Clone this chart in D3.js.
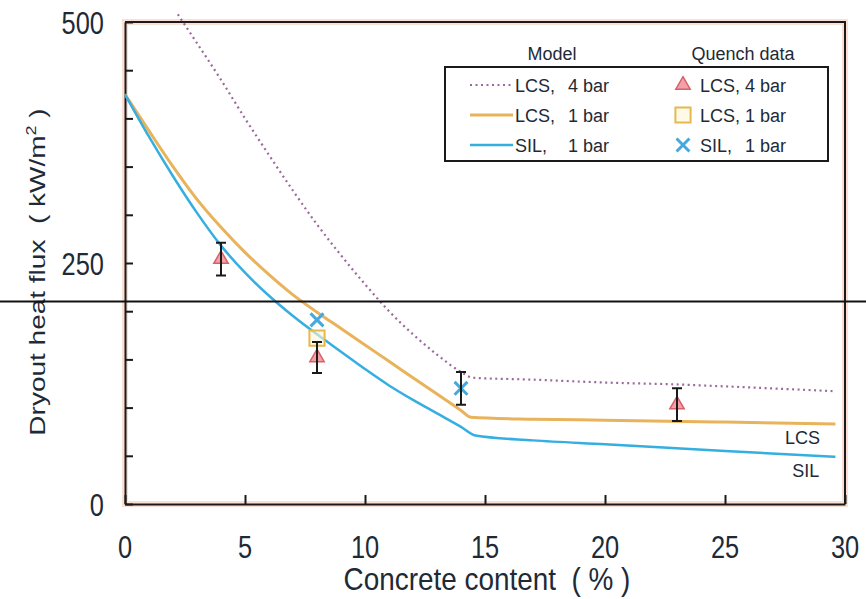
<!DOCTYPE html>
<html>
<head>
<meta charset="utf-8">
<script src="https://cdn.jsdelivr.net/npm/d3@7"></script>
<style>
  body { margin: 0; background: #fff; }
  svg { display: block; }
  text { font-family: Arial, "Liberation Sans", sans-serif; fill: #1e2a36; white-space: pre; }
</style>
</head>
<body>
<svg id="chart" width="866" height="599"></svg>
<script>
// Axis ticks
const xTickValues = [0, 5, 10, 15, 20, 25, 30];
const yTickValues = [0, 50, 100, 150, 200, 250, 300, 350, 400, 450, 500];
const yTickLabels = [0, 250, 500];

// Model curves: dryout heat flux (kW/m2) vs concrete content (%)
const lcs4X = [2.2, 3, 4, 5, 6, 7, 8, 9, 10, 11, 12, 13, 14, 14.5, 17, 20, 23, 25, 29.6];
const lcs4Y = [508, 478, 440, 400, 362, 325, 290, 258, 228, 200, 176, 155, 137, 131, 129, 126, 124, 122, 117];

const lcs1X = [0, 1, 2, 3, 4, 5, 6, 7, 8, 9, 10, 11, 12, 13, 14, 14.4, 17, 20, 25, 29.6];
const lcs1Y = [425, 387, 350, 316, 287, 261, 238, 217, 199, 182, 165, 148, 131, 114, 97, 90, 88, 87, 85, 83];

const silX = [0, 1, 2, 3, 4, 5, 6, 7, 8, 9, 10, 11, 12, 13, 14, 14.6, 17, 20, 25, 29.6];
const silY = [425, 381, 340, 302, 268, 240, 216, 195, 176, 158, 140, 123, 108, 94, 80, 71, 66, 62, 55, 49];

// Quench experiments (value and error half-width)
const quenchLcs4X = [4, 8, 23];
const quenchLcs4Y = [254, 152, 103];
const quenchLcs4Err = [17, 16, 17];

const quenchLcs1X = [8];
const quenchLcs1Y = [172];

const quenchSilX = [8, 14];
const quenchSilY = [191, 120];
const quenchSilErr = [0, 17];

// Horizontal reference level across the figure
const refLevel = 210;

const svg = d3.select("#chart");
const W = 866;

const x = d3.scaleLinear().domain([0, 30]).range([125, 845]);
const y = d3.scaleLinear().domain([0, 500]).range([504, 22]);

const ink = "#1a1a1a";
const cLcs4 = "#9a6a9a";
const cLcs1 = "#e8b35a";
const cSil = "#35aee0";

// Soft halo under the frame
svg.append("rect")
  .attr("x", x(0)).attr("y", y(500))
  .attr("width", x(30) - x(0)).attr("height", y(0) - y(500))
  .attr("fill", "none").attr("stroke", "#f9d2c2").attr("stroke-width", 6).attr("opacity", 0.7);

// Axes with inward ticks
const gx = svg.append("g").attr("transform", `translate(0,${y(0)})`)
  .call(d3.axisBottom(x).tickValues(xTickValues).tickSizeInner(-9).tickSizeOuter(0).tickFormat(""));
const gy = svg.append("g").attr("transform", `translate(${x(0)},0)`)
  .call(d3.axisLeft(y).tickValues(yTickValues).tickSizeInner(-8).tickSizeOuter(0).tickFormat(""));
[gx, gy].forEach(g => {
  g.selectAll("path, line").attr("stroke", ink).attr("stroke-width", 2);
});

// Top and right border
svg.append("path")
  .attr("d", `M${x(0)},${y(500)}H${x(30)}V${y(0)}`)
  .attr("fill", "none").attr("stroke", ink).attr("stroke-width", 2);

// Condensed text helper
function label(parent, px, py, str, size, sx, anchor, rotate) {
  let t = `translate(${px},${py})`;
  if (rotate) t += ` rotate(${rotate}) scale(1,${sx})`;
  else t += ` scale(${sx},1)`;
  return parent.append("g").attr("transform", t)
    .append("text").attr("text-anchor", anchor).style("font-size", size + "px").text(str);
}

// Tick labels
xTickValues.forEach(v => label(svg, x(v), 558, String(v), 31, 0.82, "middle"));
yTickLabels.forEach(v => label(svg, 104, y(v) + 11.5, String(v), 31, 0.82, "end"));

// Axis titles
label(svg, 487, 590, "Concrete content  ( % )", 31, 0.9, "middle");
const yt = label(svg, 45, 272, "Dryout heat flux  ( kW/m", 28, 0.8, "middle", -90);
yt.append("tspan").attr("dy", -11).style("font-size", "18px").text("2");
yt.append("tspan").attr("dy", 11).text(" )");

// Model lines
const line = d3.line().x(d => x(d[0])).y(d => y(d[1])).curve(d3.curveMonotoneX);
const zip = (a, b) => a.map((v, i) => [v, b[i]]);

svg.append("path").datum(zip(lcs1X, lcs1Y)).attr("d", line)
  .attr("fill", "none").attr("stroke", cLcs1).attr("stroke-width", 3);
svg.append("path").datum(zip(silX, silY)).attr("d", line)
  .attr("fill", "none").attr("stroke", cSil).attr("stroke-width", 2.5);
svg.append("path").datum(zip(lcs4X, lcs4Y)).attr("d", line)
  .attr("fill", "none").attr("stroke", cLcs4).attr("stroke-width", 2.2)
  .attr("stroke-dasharray", "2,3.5");

// Curve end labels
label(svg, x(27.5), y(lcs1Y[lcs1Y.length - 1]) + 20, "LCS", 18, 1, "start");
label(svg, x(27.8), y(silY[silY.length - 1]) + 20, "SIL", 18, 1, "start");

// Markers
const tri = d3.symbol().type(d3.symbolTriangle).size(90);
const sq = d3.symbol().type(d3.symbolSquare).size(230);
const cross = d3.symbol().type(d3.symbolTimes).size(110);

function drawTri(g, px, py) {
  g.append("path").attr("d", tri).attr("transform", `translate(${px},${py})`)
    .attr("fill", "#f0a2a6").attr("stroke", "#d8606a").attr("stroke-width", 1.5);
}
function drawSq(g, px, py) {
  g.append("path").attr("d", sq).attr("transform", `translate(${px},${py})`)
    .attr("fill", "#fff6d8").attr("fill-opacity", 0.6).attr("stroke", "#e6b84e").attr("stroke-width", 2);
}
function drawCross(g, px, py) {
  g.append("path").attr("d", cross).attr("transform", `translate(${px},${py})`)
    .attr("fill", "none").attr("stroke", "#45a8de").attr("stroke-width", 3);
}
function errBar(g, px, v, e) {
  if (!e) return;
  const y0 = y(v - e), y1 = y(v + e);
  g.append("path")
    .attr("d", `M${px},${y0}V${y1}M${px - 5},${y0}H${px + 5}M${px - 5},${y1}H${px + 5}`)
    .attr("stroke", ink).attr("stroke-width", 2).attr("fill", "none");
}

const pts = svg.append("g");
quenchLcs1X.forEach((v, i) => drawSq(pts, x(v), y(quenchLcs1Y[i])));
quenchSilX.forEach((v, i) => drawCross(pts, x(v), y(quenchSilY[i])));
quenchLcs4X.forEach((v, i) => drawTri(pts, x(v), y(quenchLcs4Y[i])));
quenchLcs4X.forEach((v, i) => errBar(pts, x(v), quenchLcs4Y[i], quenchLcs4Err[i]));
quenchSilX.forEach((v, i) => errBar(pts, x(v), quenchSilY[i], quenchSilErr[i]));

// Legend
const lg = svg.append("g");
lg.append("rect").attr("x", 445).attr("y", 67).attr("width", 383).attr("height", 94)
  .attr("fill", "#fff").attr("stroke", ink).attr("stroke-width", 2);
label(lg, 552, 60, "Model", 18, 1, "middle");
label(lg, 743, 60, "Quench data", 18, 1, "middle");

const legendRows = [
  { name: "LCS,", p: "4 bar", color: cLcs4, dash: "2,3.5", w: 2.2, mark: drawTri },
  { name: "LCS,", p: "1 bar", color: cLcs1, dash: null, w: 3, mark: drawSq },
  { name: "SIL,", p: "1 bar", color: cSil, dash: null, w: 2.5, mark: drawCross }
];
legendRows.forEach((r, i) => {
  const by = 91.5 + i * 30;
  const ly = by - 6.5;
  const s = lg.append("line").attr("x1", 470).attr("x2", 513).attr("y1", ly).attr("y2", ly)
    .attr("stroke", r.color).attr("stroke-width", r.w);
  if (r.dash) s.attr("stroke-dasharray", r.dash);
  const t1 = label(lg, 515, by, r.name, 18, 1, "start");
  t1.append("tspan").attr("x", 53).text(r.p);
  r.mark(lg, 683, ly);
  const t2 = label(lg, 700, by, r.name, 18, 1, "start");
  t2.append("tspan").attr("x", 45).text(r.p);
});

// Reference level line spanning the figure
svg.append("line")
  .attr("x1", 0).attr("x2", W).attr("y1", y(refLevel)).attr("y2", y(refLevel))
  .attr("stroke", "#111").attr("stroke-width", 2);
</script>
</body>
</html>
